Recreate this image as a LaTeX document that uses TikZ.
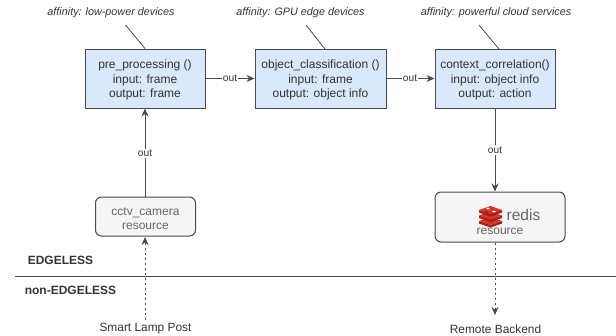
\documentclass[tikz,border=0pt]{standalone}
\usepackage{fontspec}
\setmainfont{Liberation Sans}
\usetikzlibrary{arrows.meta}
\definecolor{fn}{HTML}{DAE8FC}
\definecolor{res}{HTML}{F5F5F5}
\definecolor{ink}{HTML}{333333}
\definecolor{edgec}{HTML}{4A4A4A}
\definecolor{redisred}{HTML}{D8332C}
\definecolor{redisdark}{HTML}{A41E11}
\newcommand{\lowerline}{\rule{0pt}{12pt}}
\tikzset{
  fnbox/.style={draw=edgec,line width=1pt,fill=fn,minimum width=120pt,minimum height=59pt,inner sep=0pt,align=center,text=ink,font=\fontsize{12}{14.5}\selectfont},
  resbox/.style={draw=edgec,line width=1pt,fill=res,rounded corners=6pt,inner sep=0pt,align=center,text=black!60,font=\fontsize{12}{14.5}\selectfont},
  conn/.style={draw=edgec,line width=1pt,-{Stealth[length=8pt,width=7pt]}},
  dconn/.style={draw=edgec,line width=1pt,dash pattern=on 2.5pt off 2.5pt,-{Stealth[length=8pt,width=7pt]}},
  lab/.style={font=\fontsize{10.2}{11}\selectfont,text=ink,fill=white,inner xsep=0.5pt,inner ysep=1.5pt},
  aff/.style={font=\fontsize{10.8}{12}\selectfont\itshape,text=ink},
  plain/.style={font=\fontsize{11.9}{13}\selectfont,text=ink},
  zone/.style={font=\fontsize{12}{13}\selectfont\bfseries,text=ink},
  tick/.style={draw=edgec,line width=0.8pt},
  logotop/.style={fill=redisred},
  logoside/.style={fill=redisdark}
}
\begin{document}
\begin{tikzpicture}[x=1pt,y=-1pt]
\useasboundingbox (0,0) rectangle (616,335);
\node[fnbox] (pre) at (145,78.5) {\lowerline pre\_processing ()\\input: frame\\output: frame};
\node[fnbox,minimum width=131pt] (obj) at (320.5,78.5) {\lowerline object\_classification ()\\input: frame\\output: object info};
\node[fnbox] (ctx) at (495,78.5) {\lowerline context\_correlation()\\input: object info\\output: action};
\node[resbox,minimum width=100pt,minimum height=39pt] (cam) at (145.5,216.5) {\lowerline cctv\_camera\\resource};
\node[resbox,minimum width=130pt,minimum height=50pt] (red) at (500,217) {};
\node[font=\fontsize{15.5}{16}\selectfont,text=black!60] (redt) at (523.5,215) {redis};
\node[font=\fontsize{12}{13}\selectfont,text=black!60] (redr) at (500,231.5) {resource};
% logo
\foreach \yy in {217,211.5,206}{
  \begin{scope}[shift={(490.5,\yy)}]
    \fill[logoside] (-11.5,4) -- (0,8) -- (11.5,4) -- (11.5,6.5) -- (0,10.5) -- (-11.5,6.5) -- cycle;
    \fill[logotop] (0,0) -- (11.5,4) -- (0,8) -- (-11.5,4) -- cycle;
  \end{scope}
}
\fill[white] (488,208.5) circle[x radius=1.8pt,y radius=1pt];
\fill[white] (494,211.5) circle[x radius=1.8pt,y radius=1pt];
\fill[redisdark] (485,210.5) -- (489,212.5) -- (485,213) -- cycle;
% affinity
\node[aff] (a1) at (111,12.5) {affinity: low-power devices};
\node[aff] (a2) at (300.5,12.5) {affinity: GPU edge devices};
\node[aff] (a3) at (496,12.5) {affinity: powerful cloud services};
\coordinate (t1) at (125.5,25);
\coordinate (t2) at (306,25);
\coordinate (t3) at (479,25);
\coordinate (e2) at (325,49);
\coordinate (e3) at (499,49);
\draw[tick] (t1) -- (pre.north);
\draw[tick] (t2) -- (e2);
\draw[tick] (t3) -- (e3);
% connectors
\draw[conn] (pre.east) -- node[lab,pos=0.5]{out} (obj.west);
\draw[conn] (obj.east) -- node[lab,pos=0.49]{out} (ctx.west);
\draw[conn] (cam.north -| pre.south) -- node[lab,pos=0.49]{out} (pre.south);
\draw[conn] (ctx.south) -- node[lab,pos=0.5]{out} (ctx.south |- red.north);
\coordinate (lampstart) at (145,320);
\coordinate (lampend) at (145,237);
\coordinate (backend) at (495,315);
\draw[dconn] (lampstart) -- (lampend);
\draw[dconn] (ctx.south |- red.south) -- (backend);
% divider
\coordinate (l0) at (15,276);
\coordinate (l1) at (616,276);
\draw[draw=edgec,line width=0.8pt] (l0) -- (l1);
\node[zone] (e) at (60.5,260.5) {EDGELESS};
\node[zone] (ne) at (70.5,290) {non-EDGELESS};
\node[plain] (lamp) at (145.5,329) {Smart Lamp Post};
\node[plain] (rb) at (495.5,329) {Remote Backend};
\end{tikzpicture}
\end{document}
